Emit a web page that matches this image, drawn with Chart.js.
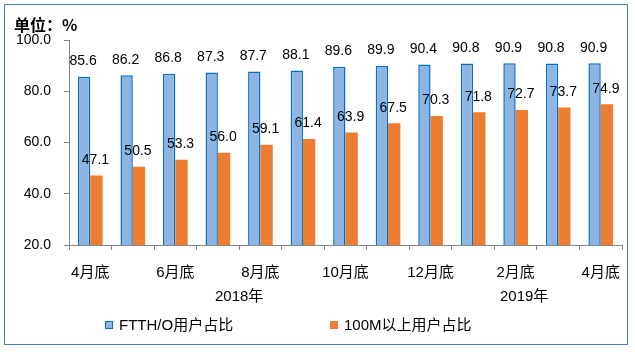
<!DOCTYPE html>
<html><head><meta charset="utf-8">
<script src="https://cdn.jsdelivr.net/npm/chart.js@4/dist/chart.umd.min.js"></script>
<style>html,body{margin:0;padding:0;background:#fff;}#wrap{width:635px;height:352px;position:relative;}</style>
</head><body><div id="wrap"><canvas id="c" width="635" height="352"></canvas></div>
<script>
const categories = ['4月底','5月底','6月底','7月底','8月底','9月底','10月底','11月底','12月底','1月底','2月底','3月底','4月底'];
const ftthValues = [85.6, 86.2, 86.8, 87.3, 87.7, 88.1, 89.6, 89.9, 90.4, 90.8, 90.9, 90.8, 90.9];
const m100Values = [47.1, 50.5, 53.3, 56.0, 59.1, 61.4, 63.9, 67.5, 70.3, 71.8, 72.7, 73.7, 74.9];
const seriesNames = ['FTTH/O用户占比', '100M以上用户占比'];
const yearLabels = ['2018年', '2019年'];
const yearAt = [3.5, 10.2];
const yTicks = [20, 40, 60, 80, 100];
const titleText = '单位：%';

const FONT = '"Liberation Sans", "Noto Sans CJK SC", sans-serif';
const CJK = '"Liberation Sans", "Noto Sans CJK SC", sans-serif';

const decor = {
  id: 'decor',
  beforeDraw(chart) {
    const ctx = chart.ctx;
    ctx.save();
    ctx.fillStyle = '#fff';
    ctx.fillRect(0, 0, chart.width, chart.height);
    ctx.strokeStyle = '#4A7EBB';
    ctx.lineWidth = 1;
    ctx.strokeRect(4.5, 4.5, 623, 340);
    ctx.restore();
  },
  afterDraw(chart) {
    const ctx = chart.ctx;
    ctx.save();
    // title
    ctx.fillStyle = '#000';
    ctx.font = 'bold 16px "Noto Sans CJK SC", sans-serif';
    ctx.textBaseline = 'middle';
    ctx.textAlign = 'left';
    ctx.fillText(titleText, 14, 25);
    // data labels
    ctx.font = '14px ' + FONT;
    ctx.textAlign = 'center';
    ctx.textBaseline = 'middle';
    chart.data.datasets.forEach((ds, di) => {
      const meta = chart.getDatasetMeta(di);
      meta.data.forEach((bar, i) => {
        ctx.fillText(ds.data[i].toFixed(1), bar.x - 1, bar.y - 15.5);
      });
    });
    // year labels
    const xs = chart.scales.x;
    ctx.font = '15px ' + CJK;
    yearLabels.forEach((t, i) => {
      ctx.fillText(t, xs.getPixelForValue(yearAt[i]), 297);
    });
    // legend
    const legendPos = [105, 330];
    ctx.textAlign = 'left';
    chart.data.datasets.forEach((ds, di) => {
      const x = legendPos[di];
      ctx.fillStyle = ds.backgroundColor;
      ctx.fillRect(x, 321, 8, 8);
      if (ds.borderWidth) {
        ctx.strokeStyle = ds.borderColor;
        ctx.lineWidth = 1;
        ctx.strokeRect(x + 0.5, 321.5, 7, 7);
      }
      ctx.fillStyle = '#000';
      ctx.fillText(ds.label, x + 14, 326);
    });
    ctx.restore();
  }
};

new Chart(document.getElementById('c'), {
  type: 'bar',
  data: {
    labels: categories,
    datasets: [
      { label: seriesNames[0], data: ftthValues, backgroundColor: '#8EB4E3', borderColor: '#0070C0', borderWidth: 1.5, borderSkipped: 'bottom' },
      { label: seriesNames[1], data: m100Values, backgroundColor: '#ED7D31', borderWidth: 0 }
    ]
  },
  options: {
    responsive: false,
    animation: false,
    devicePixelRatio: 1,
    layout: { padding: { top: 40, right: 13, bottom: 0, left: 0 } },
    datasets: { bar: { categoryPercentage: 0.58, barPercentage: 1.0 } },
    plugins: { legend: { display: false }, tooltip: { enabled: false }, title: { display: false } },
    scales: {
      x: {
        offset: true,
        grid: { display: true, drawOnChartArea: false, offset: true, color: '#868686', tickLength: 5, tickWidth: 1 },
        border: { color: '#868686', width: 1 },
        ticks: {
          autoSkip: false, maxRotation: 0, minRotation: 0, padding: 14, color: '#000',
          font: { size: 15, family: CJK },
          callback: function (v, i) { return i % 2 === 0 ? categories[i] : ''; }
        },
        afterFit: function (s) { s.height = 107; }
      },
      y: {
        min: 20, max: 100,
        afterBuildTicks: function (s) { s.ticks = yTicks.map(v => ({ value: v })); },
        grid: { display: true, drawOnChartArea: false, color: '#868686', tickLength: 5 },
        border: { color: '#868686', width: 1 },
        ticks: { padding: 13, color: '#000', font: { size: 14, family: FONT }, callback: v => Number(v).toFixed(1) },
        afterFit: function (s) { s.width = 69; }
      }
    }
  },
  plugins: [decor]
});
</script>
</body></html>
